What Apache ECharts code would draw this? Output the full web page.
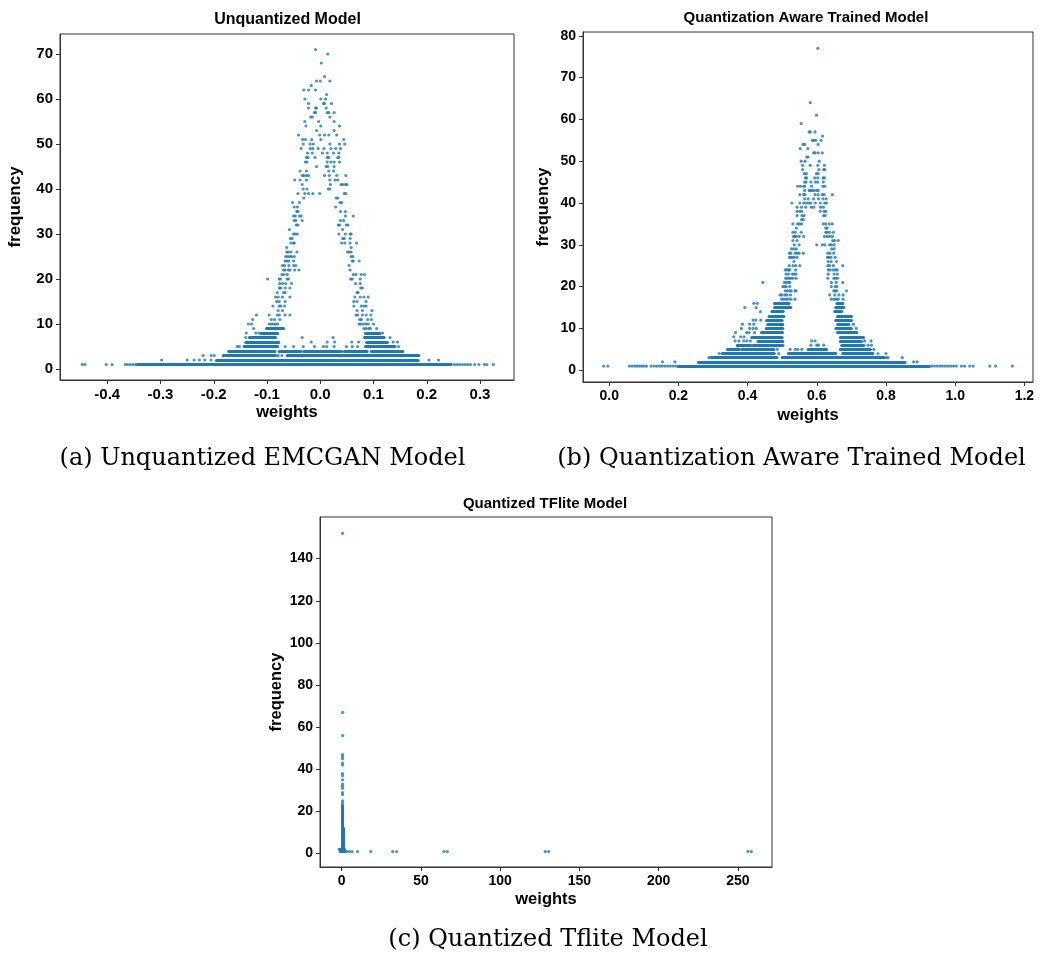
<!DOCTYPE html>
<html><head><meta charset="utf-8">
<script src="https://cdn.jsdelivr.net/npm/echarts@6/dist/echarts.min.js"></script>
<style>html,body{margin:0;padding:0;background:#fff}#c{width:1050px;height:958px}</style>
</head><body><div id="c"></div>
<script>
// ---------- (a) Unquantized model ----------
const unqXTicks = [-0.4, -0.3, -0.2, -0.1, 0.0, 0.1, 0.2, 0.3];
const unqYTicks = [0, 10, 20, 30, 40, 50, 60, 70];
// [frequency, [weights...]] isolated dots
const unqRows = [
  [71, [-0.009]], [70, [0.014]], [68, [0.002]], [65, [0.008]],
  [64, [-0.007, 0.000, 0.018]], [63, [-0.017]], [62, [-0.031, -0.022, -0.009]], [61, [0.012]],
  [60, [-0.029, 0.001, 0.010]], [59, [-0.022, 0.006, 0.008, 0.021]],
  [58, [-0.022, -0.009, -0.007, 0.011]], [57, [-0.011, -0.009, 0.013, 0.016, 0.026]],
  [56, [-0.018, -0.015, 0.018]], [55, [-0.029, -0.003, 0.026]], [54, [-0.027, 0.001, 0.036]],
  [53, [-0.007, 0.026]], [52, [-0.041, -0.001, 0.008, 0.016, 0.031]],
  [51, [-0.033, -0.028, -0.016, 0.001, 0.044]], [50, [-0.032, -0.019, -0.013, 0.018, 0.036, 0.046]],
  [49, [-0.036, -0.019, -0.014, -0.004, 0.007, 0.020, 0.029, 0.038]],
  [48, [-0.024, -0.015, 0.004, 0.013, 0.025, 0.035]],
  [47, [-0.026, -0.023, -0.010, 0.013, 0.016, 0.033, 0.035]],
  [46, [-0.028, -0.025, 0.013, 0.020, 0.026, 0.036]], [45, [-0.007, 0.011, 0.014, 0.026]],
  [44, [-0.038, -0.026, 0.016, 0.025]],
  [43, [-0.034, -0.031, -0.026, -0.022, 0.008, 0.017, 0.031, 0.048]],
  [42, [-0.048, -0.038, -0.026, 0.018, 0.028, 0.033]], [41, [-0.034, 0.019, 0.039, 0.042, 0.047, 0.050]],
  [40, [-0.032, -0.025, 0.015, 0.018]], [39, [-0.042, -0.029, -0.022, -0.014, -0.001, 0.045, 0.048]],
  [38, [-0.031, 0.030, 0.033]], [37, [-0.052, -0.039, 0.037, 0.040]], [36, [-0.049, -0.043, 0.029]],
  [35, [-0.044, -0.042, 0.038, 0.047]], [34, [-0.050, -0.047, -0.039, -0.036, 0.047, 0.062]],
  [33, [-0.049, -0.046, -0.034, 0.038, 0.044]], [32, [-0.045, -0.042, 0.034, 0.036, 0.049, 0.052]],
  [31, [-0.058, 0.042]], [30, [-0.050, -0.047, -0.043, 0.035, 0.047, 0.056, 0.058]],
  [29, [-0.056, -0.053, 0.042, 0.045, 0.056]], [28, [-0.055, -0.050, -0.049, 0.040, 0.046, 0.056, 0.068]],
  [27, [-0.063, 0.058]], [26, [-0.063, -0.060, -0.055, -0.044, 0.051, 0.054, 0.058]],
  [25, [-0.065, -0.061, -0.057, -0.054, -0.049, 0.058, 0.061]],
  [24, [-0.066, -0.063, -0.059, -0.050, 0.060, 0.062, 0.073]],
  [23, [-0.071, -0.067, -0.059, -0.050, -0.046, 0.054]],
  [22, [-0.069, -0.066, -0.060, -0.057, -0.048, -0.040, 0.056]],
  [21, [-0.072, -0.068, -0.062, 0.062, 0.067, 0.077, 0.083]],
  [20, [-0.099, -0.077, -0.075, -0.062, -0.060, 0.057, 0.060, 0.075]],
  [19, [-0.076, -0.071, -0.065, -0.054, 0.066, 0.075]], [18, [-0.077, -0.074, -0.066, -0.057, 0.076, 0.079]],
  [17, [-0.081, -0.069, -0.066, 0.069, 0.071]],
  [16, [-0.084, -0.079, -0.071, -0.057, 0.065, 0.075, 0.082, 0.090]],
  [15, [-0.082, -0.077, -0.066, 0.063, 0.069, 0.086]],
  [14, [-0.089, -0.077, -0.074, -0.067, 0.063, 0.077, 0.082, 0.086]],
  [13, [-0.079, -0.071, 0.069, 0.079, 0.097]],
  [12, [-0.120, -0.096, -0.081, -0.077, -0.066, -0.057, 0.067, 0.070, 0.079, 0.086, 0.095]],
  [11, [-0.127, -0.092, -0.086, -0.076, 0.074, 0.077, 0.089, 0.096]],
  [10, [-0.135, -0.129, -0.096, -0.092, -0.088, -0.084, -0.080, 0.073, 0.076, 0.081, 0.086, 0.090, 0.100]],
  [9, [-0.125, 0.082, 0.086, 0.091, 0.094, 0.106]], [8, [-0.139, -0.121, -0.115, 0.117]],
  [7, [-0.140, -0.034, 0.024, 0.131]], [6, [-0.017, 0.013, 0.027, 0.059, 0.072, 0.137, 0.145]],
  [5, [-0.156, -0.152, -0.066, -0.050, -0.032, -0.011, 0.006, 0.012, 0.026, 0.049, 0.060, 0.070, 0.147]],
  [3, [-0.220, -0.205, -0.199, -0.079, -0.072]],
  [2, [-0.298, -0.250, -0.237, -0.227, -0.217, -0.205, 0.204, 0.222]],
  [1, [-0.447, -0.442, -0.402, -0.391, -0.366, -0.362, -0.357, -0.352, -0.347, 0.252, 0.257, 0.262, 0.267, 0.272, 0.277, 0.282, 0.290, 0.298, 0.308, 0.313, 0.325]]
];
// dense runs of overlapping dots: [from weight, to weight, frequency]
const unqRuns = [
  [-0.344, 0.246, 1], [-0.195, 0.184, 2],
  [-0.182, -0.084, 3], [-0.062, 0.185, 3],
  [-0.172, -0.085, 4], [-0.077, -0.036, 4], [-0.031, 0.040, 4], [0.045, 0.088, 4], [0.096, 0.155, 4],
  [-0.143, -0.080, 5], [0.085, 0.140, 5],
  [-0.140, -0.078, 6], [0.087, 0.126, 6],
  [-0.133, -0.084, 7], [0.083, 0.120, 7],
  [-0.111, -0.080, 8], [0.085, 0.112, 8],
  [-0.101, -0.069, 9]
];

// ---------- (b) Quantization aware trained model ----------
const qatXTicks = [0.0, 0.2, 0.4, 0.6, 0.8, 1.0, 1.2];
const qatYTicks = [0, 10, 20, 30, 40, 50, 60, 70, 80];
const qatRows = [
  [77, [0.603]], [64, [0.581]], [61, [0.599]], [59, [0.555]], [57, [0.578, 0.581, 0.595]], [56, [0.617]],
  [55, [0.587, 0.591, 0.597, 0.612]], [54, [0.560, 0.565, 0.604]], [53, [0.552, 0.574]],
  [52, [0.591, 0.595, 0.604, 0.616]], [51, [0.571, 0.575]], [50, [0.555, 0.566, 0.607]],
  [49, [0.559, 0.581, 0.603, 0.622]], [48, [0.559, 0.606, 0.620, 0.623]], [47, [0.564, 0.570, 0.599, 0.604]],
  [46, [0.567, 0.571, 0.594, 0.603, 0.618, 0.622]], [45, [0.565, 0.569, 0.583, 0.596, 0.603, 0.619]],
  [44, [0.545, 0.553, 0.562, 0.565, 0.585, 0.618, 0.623]],
  [43, [0.565, 0.578, 0.581, 0.586, 0.591, 0.599, 0.604]],
  [42, [0.551, 0.562, 0.566, 0.595, 0.604, 0.616, 0.621, 0.645]],
  [41, [0.565, 0.575, 0.591, 0.605, 0.618, 0.627]],
  [40, [0.528, 0.551, 0.562, 0.570, 0.577, 0.583, 0.596, 0.610, 0.623, 0.628]],
  [39, [0.543, 0.556, 0.568, 0.584, 0.591, 0.611, 0.619]], [38, [0.543, 0.551, 0.556, 0.610, 0.621, 0.626]],
  [37, [0.543, 0.557, 0.563, 0.620, 0.624]], [36, [0.556, 0.561]],
  [35, [0.531, 0.545, 0.550, 0.556, 0.619, 0.626, 0.636, 0.645]], [34, [0.541, 0.626, 0.630]],
  [33, [0.531, 0.538, 0.555, 0.626, 0.630, 0.637, 0.648]],
  [32, [0.533, 0.536, 0.541, 0.549, 0.562, 0.622, 0.630, 0.637, 0.645]],
  [31, [0.531, 0.543, 0.646, 0.652, 0.662]], [30, [0.535, 0.549, 0.600, 0.616, 0.623, 0.637, 0.642, 0.650]],
  [29, [0.527, 0.534, 0.541, 0.643, 0.650]],
  [28, [0.521, 0.525, 0.538, 0.543, 0.549, 0.561, 0.632, 0.638, 0.649]],
  [27, [0.521, 0.525, 0.530, 0.535, 0.543, 0.631, 0.635, 0.641, 0.653]], [26, [0.534, 0.633, 0.642, 0.657]],
  [25, [0.520, 0.531, 0.539, 0.551, 0.632, 0.637, 0.648, 0.675]],
  [24, [0.509, 0.514, 0.519, 0.522, 0.539, 0.633, 0.639, 0.648, 0.654, 0.659]],
  [23, [0.511, 0.518, 0.530, 0.535, 0.540, 0.633, 0.650, 0.659]],
  [22, [0.510, 0.514, 0.520, 0.525, 0.531, 0.540, 0.632, 0.649, 0.654, 0.660]],
  [21, [0.444, 0.506, 0.512, 0.519, 0.522, 0.642, 0.656, 0.675]],
  [20, [0.502, 0.507, 0.512, 0.522, 0.642, 0.653, 0.658]],
  [19, [0.509, 0.515, 0.522, 0.526, 0.537, 0.540, 0.649, 0.654, 0.657, 0.686]],
  [18, [0.494, 0.499, 0.508, 0.514, 0.524, 0.637, 0.652, 0.664, 0.676]],
  [17, [0.498, 0.504, 0.511, 0.517, 0.525, 0.537, 0.642, 0.650, 0.656, 0.662, 0.676]],
  [16, [0.418, 0.428]], [15, [0.392, 0.425]], [14, [0.437]], [12, [0.416, 0.424, 0.438]],
  [11, [0.385, 0.406, 0.418, 0.706]], [10, [0.382, 0.406, 0.416, 0.425, 0.714]],
  [9, [0.365, 0.397, 0.404, 0.420]], [8, [0.360, 0.380, 0.390]],
  [7, [0.364, 0.375, 0.389, 0.398, 0.408, 0.585, 0.595, 0.738, 0.757]],
  [6, [0.583, 0.600, 0.605, 0.620, 0.748, 0.758]], [5, [0.486, 0.523, 0.538, 0.545, 0.557, 0.765]],
  [4, [0.318, 0.490, 0.777, 0.800]], [3, [0.288, 0.800, 0.806, 0.847]], [2, [0.154, 0.190, 0.880, 0.890]],
  [1, [-0.016, -0.004, 0.058, 0.066, 0.074, 0.081, 0.088, 0.095, 0.101, 0.108, 0.121, 0.130, 0.138, 0.146,
       0.153, 0.161, 0.169, 0.177, 0.185, 0.193, 0.932, 0.940, 0.948, 0.956, 0.963, 0.971, 0.979, 0.987,
       0.995, 1.003, 1.018, 1.027, 1.042, 1.052, 1.100, 1.117, 1.165]]
];
const qatRuns = [
  [0.200, 0.925, 1], [0.258, 0.855, 2],
  [0.294, 0.485, 3], [0.500, 0.795, 3],
  [0.327, 0.477, 4], [0.518, 0.655, 4], [0.675, 0.762, 4],
  [0.342, 0.376, 5], [0.383, 0.476, 5], [0.575, 0.628, 5], [0.668, 0.755, 5],
  [0.370, 0.410, 6], [0.416, 0.502, 6], [0.672, 0.736, 6],
  [0.430, 0.502, 7], [0.668, 0.729, 7],
  [0.412, 0.500, 8], [0.668, 0.735, 8],
  [0.440, 0.501, 9], [0.660, 0.716, 9],
  [0.454, 0.502, 10], [0.655, 0.700, 10],
  [0.458, 0.502, 11], [0.660, 0.693, 11],
  [0.455, 0.500, 12], [0.655, 0.700, 12],
  [0.462, 0.505, 13], [0.660, 0.700, 13],
  [0.470, 0.503, 14], [0.652, 0.672, 14],
  [0.478, 0.525, 15], [0.655, 0.678, 15],
  [0.478, 0.520, 16], [0.658, 0.675, 16]
];

// ---------- (c) Quantized TFlite model ----------
const tflXTicks = [0, 50, 100, 150, 200, 250];
const tflYTicks = [0, 20, 40, 60, 80, 100, 120, 140];
const tflPoints = [
  [0.5, 152], [0.6, 67], [0.6, 56], [0.5, 47], [0.5, 46], [0.5, 45], [0.5, 43], [0.5, 42], [0.5, 38],
  [0.5, 37], [0.5, 35], [0.5, 33], [0.5, 32], [0.5, 31], [0.5, 29], [0.5, 28], [0.5, 25], [0.5, 24],
  [-1.5, 2], [3.2, 1], [4.8, 1], [6.5, 1], [10, 1], [18.4, 1], [32.2, 1], [34.6, 1], [64.5, 1], [66.6, 1],
  [128.4, 1], [130.5, 1], [256.3, 1], [258.4, 1]
];
// dense vertical stacks: [weight, from frequency, to frequency]
const tflColumns = [[0.4, 1, 23], [1.0, 1, 12]];
// dense horizontal runs: [from weight, to weight, frequency]
const tflRuns = [[-0.8, 2.2, 1], [-1.2, 1.8, 2]];

const BLUE = '#1f77b4';
const SANS = '"Liberation Sans", Arial, sans-serif';

function rowsToPoints(rows) { return rows.flatMap(([f, xs]) => xs.map(x => [x, f])); }
function hRuns(runs) { return runs.map(([a, b, f]) => ({ coords: [[a, f], [b, f]] })); }
function vRuns(cols) { return cols.map(([x, a, b]) => ({ coords: [[x, a], [x, b]] })); }

function axis(i, min, max, ticks, fmt, fs, name, gap, nameFs) {
  return {
    type: 'value', gridIndex: i, min: min, max: max, scale: true,
    name: name, nameLocation: 'middle', nameGap: gap,
    nameTextStyle: { fontFamily: SANS, fontWeight: 'bold', fontSize: nameFs, color: '#000' },
    axisLine: { show: true, onZero: false, lineStyle: { color: '#333', width: 1 } },
    axisTick: { show: true, inside: false, length: 4, customValues: ticks, lineStyle: { color: '#333', width: 1 } },
    axisLabel: { show: true, customValues: ticks, formatter: fmt, fontFamily: SANS, fontWeight: 'bold', fontSize: fs, color: '#000', margin: 7 },
    splitLine: { show: false }
  };
}
const f1 = v => Number(v).toFixed(1);
const f0 = v => String(Math.round(v));

function scatter(i, data) {
  return { type: 'scatter', xAxisIndex: i, yAxisIndex: i, data: data, symbol: 'circle', symbolSize: 3.2,
           itemStyle: { color: BLUE }, silent: true, animation: false };
}
function lines(i, data) {
  return { type: 'lines', coordinateSystem: 'cartesian2d', xAxisIndex: i, yAxisIndex: i, data: data,
           lineStyle: { color: BLUE, width: 3, opacity: 1, cap: 'round' }, silent: true, animation: false };
}

const grids = [
  { left: 60, top: 34, width: 454, height: 346 },
  { left: 583, top: 32, width: 450, height: 350 },
  { left: 320, top: 517, width: 452, height: 350 }
].map(g => Object.assign(g, { show: true, borderColor: '#333', borderWidth: 1, backgroundColor: 'transparent' }));

function txt(x, y, text, font) {
  return { type: 'text', x: x, y: y, silent: true,
           style: { text: text, font: font, fill: '#000', align: 'center', verticalAlign: 'middle' } };
}

const option = {
  animation: false,
  backgroundColor: '#fff',
  grid: grids,
  xAxis: [
    axis(0, -0.4888, 0.3638, unqXTicks, f1, 15, 'weights', 24, 16.5),
    axis(1, -0.0757, 1.2249, qatXTicks, f1, 14, 'weights', 25, 16.5),
    axis(2, -13.7, 271.5, tflXTicks, f0, 14, 'weights', 24, 16.5)
  ],
  yAxis: [
    axis(0, -2.44, 74.44, unqYTicks, f0, 15, 'frequency', 36, 17),
    axis(1, -2.82, 80.9, qatYTicks, f0, 14, 'frequency', 31, 16.5),
    axis(2, -6.36, 159.75, tflYTicks, f0, 14, 'frequency', 35, 16.5)
  ],
  series: [
    lines(0, hRuns(unqRuns)), scatter(0, rowsToPoints(unqRows)),
    lines(1, hRuns(qatRuns)), scatter(1, rowsToPoints(qatRows)),
    lines(2, hRuns(tflRuns)), lines(2, vRuns(tflColumns)), scatter(2, tflPoints)
  ],
  graphic: [
    txt(287.5, 19.5, 'Unquantized Model', 'bold 16px ' + SANS),
    txt(806, 17.5, 'Quantization Aware Trained Model', 'bold 15px ' + SANS),
    txt(545, 503.5, 'Quantized TFlite Model', 'bold 15px ' + SANS),
    txt(262.5, 459, '(a) Unquantized EMCGAN Model', '24px "DejaVu Serif", serif'),
    txt(791.5, 459, '(b) Quantization Aware Trained Model', '24px "DejaVu Serif", serif'),
    txt(548, 940, '(c) Quantized Tflite Model', '24px "DejaVu Serif", serif')
  ]
};
const chart = echarts.init(document.getElementById('c'), null, { renderer: 'canvas' });
chart.setOption(option);
</script></body></html>
